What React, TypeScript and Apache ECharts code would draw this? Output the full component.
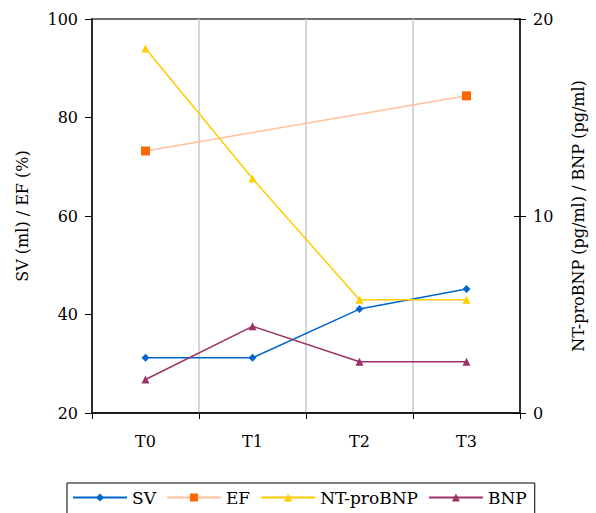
import React, { useEffect, useRef } from "react";
import * as echarts from "echarts";

const categories = ["T0", "T1", "T2", "T3"];
const svValues = [31.2, 31.2, 41.1, 45.2];
const efValues: (number | null)[] = [73.2, null, null, 84.4];
const ntProBnpValues = [18.5, 11.9, 5.75, 5.75];
const bnpValues = [1.7, 4.4, 2.6, 2.6];
const leftTicks = { min: 20, max: 100, interval: 20 };
const rightTicks = { min: 0, max: 20, interval: 10 };

const FONT = "DejaVu Serif";

export default function App() {
  const ref = useRef<HTMLDivElement>(null);
  useEffect(() => {
    if (!ref.current) return;
    const chart = echarts.init(ref.current, null, { renderer: "svg" });
    const textStyle = { fontFamily: FONT, color: "#000", fontSize: 16 };
    chart.setOption({
      animation: false,
      textStyle: { fontFamily: FONT },
      grid: {
        left: 92,
        top: 19,
        width: 428,
        height: 394,
        show: true,
        borderColor: "#404040",
        borderWidth: 1.5,
        backgroundColor: "transparent",
      },
      legend: {
        left: 67,
        top: 483,
        width: 470,
        padding: [6, 8, 14, 5],
        itemWidth: 54,
        itemHeight: 10,
        itemGap: 10,
        borderColor: "#000",
        borderWidth: 1,
        textStyle: { ...textStyle, fontSize: 17 },
        data: ["SV", "EF", "NT-proBNP", "BNP"],
      },
      xAxis: {
        type: "category",
        data: categories,
        boundaryGap: true,
        axisLine: { lineStyle: { color: "#000", width: 1.5 } },
        axisTick: { show: true, length: 6, lineStyle: { color: "#000" } },
        axisLabel: { ...textStyle, margin: 20 },
        splitLine: { show: true, lineStyle: { color: "#c8c8c8", width: 1.5 } },
      },
      yAxis: [
        {
          type: "value",
          position: "left",
          min: leftTicks.min,
          max: leftTicks.max,
          interval: leftTicks.interval,
          name: "SV (ml) / EF (%)",
          nameLocation: "middle",
          nameGap: 62,
          nameTextStyle: { ...textStyle },
          axisLine: { show: true, lineStyle: { color: "#000", width: 1.5 } },
          axisTick: { show: true, length: 7, lineStyle: { color: "#000" } },
          axisLabel: { ...textStyle, margin: 14 },
          splitLine: { show: false },
        },
        {
          type: "value",
          position: "right",
          min: rightTicks.min,
          max: rightTicks.max,
          interval: rightTicks.interval,
          name: "NT-proBNP (pg/ml) / BNP (pg/ml)",
          nameLocation: "middle",
          nameGap: 50,
          nameRotate: 90,
          nameTextStyle: { ...textStyle },
          axisLine: { show: true, lineStyle: { color: "#000", width: 1.5 } },
          axisTick: { show: true, length: 6, lineStyle: { color: "#000" } },
          axisLabel: { ...textStyle, margin: 13 },
          splitLine: { show: false },
        },
        {
          type: "value",
          position: "right",
          min: rightTicks.min,
          max: rightTicks.max,
          interval: rightTicks.interval,
          axisLine: { show: false },
          axisTick: { show: true, inside: true, length: 6, lineStyle: { color: "#000" } },
          axisLabel: { show: false },
          splitLine: { show: false },
        },
      ],
      series: [
        {
          name: "SV",
          type: "line",
          yAxisIndex: 0,
          data: svValues,
          symbol: "diamond",
          symbolSize: 8,
          lineStyle: { color: "#0066CC", width: 1.5 },
          itemStyle: { color: "#0066CC" },
        },
        {
          name: "EF",
          type: "line",
          yAxisIndex: 0,
          data: efValues,
          connectNulls: true,
          symbol: "rect",
          symbolSize: 9,
          lineStyle: { color: "#FFC09A", width: 1.5 },
          itemStyle: { color: "#FF6600" },
        },
        {
          name: "NT-proBNP",
          type: "line",
          yAxisIndex: 1,
          data: ntProBnpValues,
          symbol: "triangle",
          symbolSize: 8,
          lineStyle: { color: "#FFCC00", width: 1.5 },
          itemStyle: { color: "#FFCC00" },
        },
        {
          name: "BNP",
          type: "line",
          yAxisIndex: 1,
          data: bnpValues,
          symbol: "triangle",
          symbolSize: 8,
          lineStyle: { color: "#993366", width: 1.5 },
          itemStyle: { color: "#993366" },
        },
      ],
    });
    return () => chart.dispose();
  }, []);
  return (
    <div
      ref={ref}
      style={{ position: "fixed", left: 0, top: 0, width: 596, height: 513, background: "#fff" }}
    />
  );
}
